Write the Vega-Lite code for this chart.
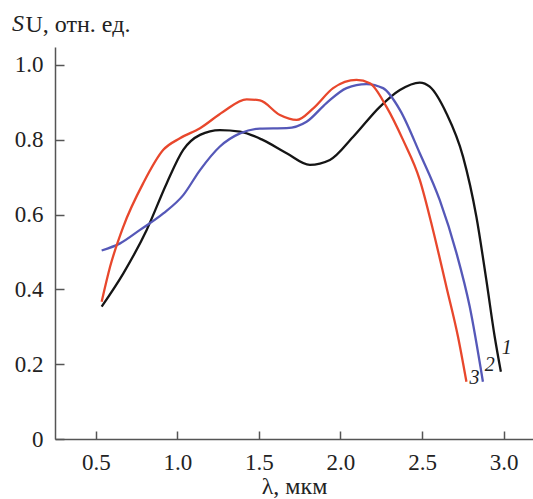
{
  "$schema": "https://vega.github.io/schema/vega-lite/v6.json",
  "autosize": "none",
  "width": 478,
  "height": 392,
  "padding": {"left": 55, "top": 47, "right": 0, "bottom": 60},
  "background": "white",
  "config": {
    "view": {"stroke": null},
    "font": "Liberation Serif"
  },
  "title": {
    "text": "S",
    "anchor": "start",
    "frame": "group",
    "font": "Liberation Serif",
    "fontStyle": "italic",
    "fontWeight": "normal",
    "fontSize": 24,
    "color": "#222",
    "baseline": "alphabetic",
    "offset": -43,
    "dx": -43
  },
  "datasets": {
    "curves": [
      {"curve": "1", "x": 0.536, "y": 0.354},
      {"curve": "1", "x": 0.669, "y": 0.443},
      {"curve": "1", "x": 0.812, "y": 0.559},
      {"curve": "1", "x": 0.935, "y": 0.684},
      {"curve": "1", "x": 1.036, "y": 0.773},
      {"curve": "1", "x": 1.139, "y": 0.813},
      {"curve": "1", "x": 1.261, "y": 0.826},
      {"curve": "1", "x": 1.384, "y": 0.822},
      {"curve": "1", "x": 1.526, "y": 0.799},
      {"curve": "1", "x": 1.67, "y": 0.764},
      {"curve": "1", "x": 1.812, "y": 0.733},
      {"curve": "1", "x": 1.935, "y": 0.746},
      {"curve": "1", "x": 2.078, "y": 0.808},
      {"curve": "1", "x": 2.241, "y": 0.888},
      {"curve": "1", "x": 2.364, "y": 0.933},
      {"curve": "1", "x": 2.486, "y": 0.953},
      {"curve": "1", "x": 2.547, "y": 0.942},
      {"curve": "1", "x": 2.649, "y": 0.871},
      {"curve": "1", "x": 2.751, "y": 0.755},
      {"curve": "1", "x": 2.833, "y": 0.594},
      {"curve": "1", "x": 2.894, "y": 0.425},
      {"curve": "1", "x": 2.945, "y": 0.274},
      {"curve": "1", "x": 2.983, "y": 0.18},
      {"curve": "2", "x": 0.536, "y": 0.504},
      {"curve": "2", "x": 0.649, "y": 0.523},
      {"curve": "2", "x": 0.771, "y": 0.559},
      {"curve": "2", "x": 0.914, "y": 0.603},
      {"curve": "2", "x": 1.036, "y": 0.652},
      {"curve": "2", "x": 1.139, "y": 0.719},
      {"curve": "2", "x": 1.261, "y": 0.782},
      {"curve": "2", "x": 1.384, "y": 0.817},
      {"curve": "2", "x": 1.506, "y": 0.83},
      {"curve": "2", "x": 1.67, "y": 0.831},
      {"curve": "2", "x": 1.792, "y": 0.848},
      {"curve": "2", "x": 1.914, "y": 0.898},
      {"curve": "2", "x": 2.037, "y": 0.938},
      {"curve": "2", "x": 2.159, "y": 0.949},
      {"curve": "2", "x": 2.261, "y": 0.938},
      {"curve": "2", "x": 2.364, "y": 0.88},
      {"curve": "2", "x": 2.486, "y": 0.764},
      {"curve": "2", "x": 2.608, "y": 0.639},
      {"curve": "2", "x": 2.711, "y": 0.497},
      {"curve": "2", "x": 2.792, "y": 0.354},
      {"curve": "2", "x": 2.873, "y": 0.153},
      {"curve": "3", "x": 0.536, "y": 0.367},
      {"curve": "3", "x": 0.588, "y": 0.461},
      {"curve": "3", "x": 0.669, "y": 0.568},
      {"curve": "3", "x": 0.791, "y": 0.684},
      {"curve": "3", "x": 0.914, "y": 0.773},
      {"curve": "3", "x": 1.016, "y": 0.804},
      {"curve": "3", "x": 1.139, "y": 0.831},
      {"curve": "3", "x": 1.281, "y": 0.875},
      {"curve": "3", "x": 1.425, "y": 0.908},
      {"curve": "3", "x": 1.506, "y": 0.905},
      {"curve": "3", "x": 1.629, "y": 0.866},
      {"curve": "3", "x": 1.731, "y": 0.853},
      {"curve": "3", "x": 1.833, "y": 0.884},
      {"curve": "3", "x": 1.955, "y": 0.938},
      {"curve": "3", "x": 2.098, "y": 0.96},
      {"curve": "3", "x": 2.18, "y": 0.951},
      {"curve": "3", "x": 2.282, "y": 0.888},
      {"curve": "3", "x": 2.384, "y": 0.799},
      {"curve": "3", "x": 2.486, "y": 0.693},
      {"curve": "3", "x": 2.567, "y": 0.559},
      {"curve": "3", "x": 2.649, "y": 0.407},
      {"curve": "3", "x": 2.72, "y": 0.274},
      {"curve": "3", "x": 2.772, "y": 0.153}
    ],
    "labels": [
      {"curve": "1", "x": 3.019, "y": 0.243},
      {"curve": "2", "x": 2.915, "y": 0.198},
      {"curve": "3", "x": 2.822, "y": 0.163}
    ]
  },
  "layer": [
    {
      "data": {"name": "curves"},
      "mark": {"type": "line", "interpolate": "monotone", "strokeWidth": 2.3, "clip": false},
      "encoding": {
        "x": {
          "field": "x", "type": "quantitative",
          "scale": {"domain": [0.25, 3.18], "nice": false, "zero": false},
          "axis": {
            "values": [0.5, 1.0, 1.5, 2.0, 2.5, 3.0],
            "format": ".1f",
            "grid": false,
            "domainColor": "#555",
            "domainWidth": 1.5,
            "tickColor": "#555",
            "tickWidth": 1.5,
            "tickSize": -8,
            "labelFont": "Liberation Serif",
            "labelFontSize": 23,
            "labelColor": "#222",
            "labelPadding": 20,
            "title": "λ, мкм",
            "titleFont": "Liberation Serif",
            "titleFontSize": 24,
            "titleFontWeight": "normal",
            "titleColor": "#222",
            "titlePadding": 0
          }
        },
        "y": {
          "field": "y", "type": "quantitative",
          "scale": {"domain": [0, 1.048], "nice": false, "zero": true},
          "axis": {
            "values": [0, 0.2, 0.4, 0.6, 0.8, 1.0],
            "labelExpr": "datum.value == 0 ? '0' : format(datum.value, '.1f')",
            "grid": false,
            "domainColor": "#555",
            "domainWidth": 1.5,
            "tickColor": "#555",
            "tickWidth": 1.5,
            "tickSize": -9,
            "labelFont": "Liberation Serif",
            "labelFontSize": 23,
            "labelColor": "#222",
            "labelPadding": 21,
            "title": "U, отн. ед.",
            "titleFont": "Liberation Serif",
            "titleFontSize": 24,
            "titleFontWeight": "normal",
            "titleColor": "#222",
            "titleAngle": 0,
            "titleAlign": "left",
            "titleBaseline": "alphabetic",
            "titleX": -30,
            "titleY": -16
          }
        },
        "color": {
          "field": "curve", "type": "nominal",
          "scale": {"domain": ["1", "2", "3"], "range": ["#151515", "#5558b8", "#e8472c"]},
          "legend": null
        }
      }
    },
    {
      "data": {"name": "labels"},
      "mark": {"type": "text", "font": "Liberation Serif", "fontStyle": "italic", "fontSize": 20, "color": "#222", "clip": false},
      "encoding": {
        "x": {"field": "x", "type": "quantitative"},
        "y": {"field": "y", "type": "quantitative"},
        "text": {"field": "curve"}
      }
    }
  ]
}
